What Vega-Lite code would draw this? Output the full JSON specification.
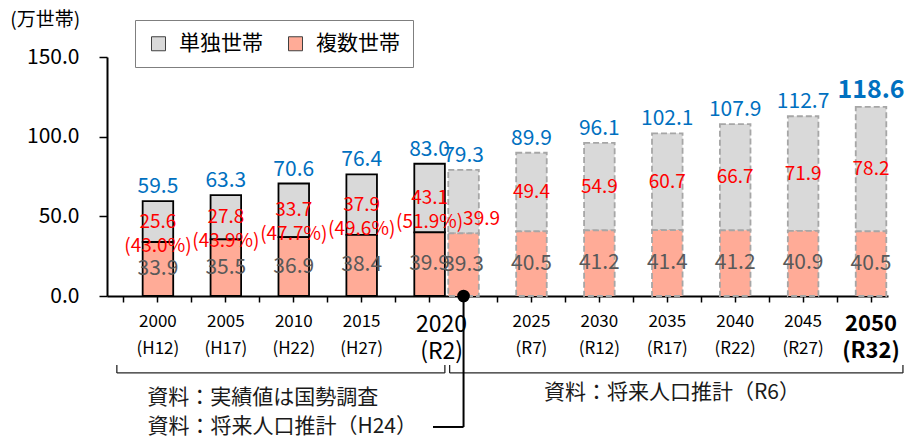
{
  "$schema": "https://vega.github.io/schema/vega-lite/v6.json",
  "width": 781,
  "height": 239,
  "autosize": {"type": "none"},
  "padding": {"left": 107, "top": 57, "right": 21, "bottom": 144},
  "config": {"view": {"stroke": null}, "font": "Noto Sans CJK JP"},
  "data": {
    "values": [
      {"label": "2000|(H12)", "kind": "実績", "複数世帯": 33.9, "単独世帯": 25.6, "total": 59.5, "slbl": "25.6\n(43.0%)"},
      {"label": "2005|(H17)", "kind": "実績", "複数世帯": 35.5, "単独世帯": 27.8, "total": 63.3, "slbl": "27.8\n(43.9%)"},
      {"label": "2010|(H22)", "kind": "実績", "複数世帯": 36.9, "単独世帯": 33.7, "total": 70.6, "slbl": "33.7\n(47.7%)"},
      {"label": "2015|(H27)", "kind": "実績", "複数世帯": 38.4, "単独世帯": 37.9, "total": 76.4, "slbl": "37.9\n(49.6%)"},
      {"label": "2020|(R2)", "kind": "実績", "複数世帯": 39.9, "単独世帯": 43.1, "total": 83.0, "slbl": "43.1\n(51.9%)"},
      {"label": "2020p", "kind": "推計H24", "複数世帯": 39.3, "単独世帯": 39.9, "total": 79.3, "slbl": "39.9"},
      {"label": "2025|(R7)", "kind": "推計R6", "複数世帯": 40.5, "単独世帯": 49.4, "total": 89.9, "slbl": "49.4"},
      {"label": "2030|(R12)", "kind": "推計R6", "複数世帯": 41.2, "単独世帯": 54.9, "total": 96.1, "slbl": "54.9"},
      {"label": "2035|(R17)", "kind": "推計R6", "複数世帯": 41.4, "単独世帯": 60.7, "total": 102.1, "slbl": "60.7"},
      {"label": "2040|(R22)", "kind": "推計R6", "複数世帯": 41.2, "単独世帯": 66.7, "total": 107.9, "slbl": "66.7"},
      {"label": "2045|(R27)", "kind": "推計R6", "複数世帯": 40.9, "単独世帯": 71.9, "total": 112.7, "slbl": "71.9"},
      {"label": "2050|(R32)", "kind": "推計R6", "複数世帯": 40.5, "単独世帯": 78.2, "total": 118.6, "slbl": "78.2"}
    ]
  },
  "layer": [
    {
      "transform": [{"fold": ["単独世帯", "複数世帯"], "as": ["key", "value"]}],
      "mark": {"type": "bar", "width": {"band": 0.9}, "strokeWidth": 1.8},
      "encoding": {
        "x": {
          "field": "label", "type": "nominal", "title": null,
          "scale": {
            "domain": ["_a", "2000|(H12)", "_b", "2005|(H17)", "_c", "2010|(H22)", "_d", "2015|(H27)", "_e", "2020|(R2)", "2020p", "_f", "2025|(R7)", "_g", "2030|(R12)", "_h", "2035|(R17)", "_i", "2040|(R22)", "_j", "2045|(R27)", "_k", "2050|(R32)"],
            "paddingInner": 0, "paddingOuter": 0
          },
          "axis": {
            "title": null,
            "labelExpr": "indexof(datum.value, '|') >= 0 ? split(datum.value, '|') : ''",
            "labelAngle": 0,
            "labelOverlap": false,
            "labelColor": "#000000",
            "labelFontSize": {"condition": [{"test": "indexof(datum.value, '2020|') == 0", "value": 23}, {"test": "indexof(datum.value, '2050|') == 0", "value": 22}], "value": 17},
            "labelFontWeight": {"condition": {"test": "indexof(datum.value, '2050|') == 0", "value": "bold"}, "value": "normal"},
            "labelOffset": {"condition": {"test": "indexof(datum.value, '2020|') == 0", "value": 12}, "value": 0},
            "labelLineHeight": 27,
            "labelPadding": 11,
            "domainColor": "#000000",
            "domainWidth": 2,
            "tickColor": "#000000",
            "tickSize": 6,
            "tickWidth": 1.5
          }
        },
        "y": {
          "field": "value", "type": "quantitative", "stack": "zero",
          "scale": {"domain": [0, 150], "nice": false},
          "axis": {
            "title": null,
            "values": [0, 50, 100, 150],
            "format": ".1f",
            "grid": false,
            "domainColor": "#000000",
            "domainWidth": 2,
            "tickColor": "#000000",
            "tickSize": 8,
            "tickWidth": 1.5,
            "labelFontSize": 21,
            "labelColor": "#000000",
            "labelPadding": 20
          }
        },
        "fill": {
          "field": "key", "type": "nominal",
          "scale": {"domain": ["単独世帯", "複数世帯"], "range": ["#D9D9D9", "#FFAB97"]},
          "legend": {
            "title": null,
            "orient": "none",
            "legendX": 28,
            "legendY": -37,
            "direction": "horizontal",
            "symbolType": "square",
            "symbolSize": 196,
            "symbolStrokeColor": "#404040",
            "symbolStrokeWidth": 1,
            "labelFontSize": 21,
            "labelColor": "#000000",
            "labelOffset": 10,
            "columnPadding": 22,
            "padding": 13,
            "strokeColor": "#7F7F7F",
            "fillColor": "#FFFFFF"
          }
        },
        "order": {"field": "key", "sort": "descending"},
        "stroke": {"condition": {"test": "datum.kind == '実績'", "value": "#000000"}, "value": "#A6A6A6"},
        "strokeDash": {"condition": {"test": "datum.kind == '実績'", "value": [1, 0]}, "value": [6, 3]}
      }
    },
    {
      "transform": [{"fold": ["単独世帯", "複数世帯"], "as": ["key", "value"]}],
      "mark": {"type": "text", "baseline": "middle", "fontSize": 21, "color": "#595959"},
      "encoding": {
        "x": {"field": "label", "type": "nominal", "title": null},
        "y": {"field": "value", "type": "quantitative", "stack": "zero", "bandPosition": 0.5, "scale": {"domain": [0, 150], "nice": false}},
        "detail": {"field": "key"},
        "order": {"field": "key", "sort": "descending"},
        "text": {"condition": {"test": "datum.key == '複数世帯'", "field": "value", "type": "quantitative", "format": ".1f"}, "value": ""}
      }
    },
    {
      "transform": [{"fold": ["単独世帯", "複数世帯"], "as": ["key", "value"]}],
      "mark": {"type": "text", "baseline": "middle", "fontSize": 19, "color": "#FF0000", "lineBreak": "\n", "lineHeight": 24},
      "encoding": {
        "x": {"field": "label", "type": "nominal", "title": null},
        "y": {"field": "value", "type": "quantitative", "stack": "zero", "bandPosition": 0.5, "scale": {"domain": [0, 150], "nice": false}},
        "detail": {"field": "key"},
        "order": {"field": "key", "sort": "descending"},
        "text": {"condition": {"test": "datum.key == '単独世帯' && datum.label != '2020p'", "field": "slbl", "type": "nominal"}, "value": ""}
      }
    },
    {
      "transform": [{"fold": ["単独世帯", "複数世帯"], "as": ["key", "value"]}],
      "mark": {"type": "text", "baseline": "middle", "fontSize": 19, "color": "#FF0000", "dx": 18, "dy": 17},
      "encoding": {
        "x": {"field": "label", "type": "nominal", "title": null},
        "y": {"field": "value", "type": "quantitative", "stack": "zero", "bandPosition": 0.5, "scale": {"domain": [0, 150], "nice": false}},
        "detail": {"field": "key"},
        "order": {"field": "key", "sort": "descending"},
        "text": {"condition": {"test": "datum.key == '単独世帯' && datum.label == '2020p'", "field": "value", "type": "quantitative", "format": ".1f"}, "value": ""}
      }
    },
    {
      "transform": [{"filter": "datum.label != '2050|(R32)'"}],
      "mark": {"type": "text", "baseline": "bottom", "dy": -4, "fontSize": 21, "color": "#0070C0"},
      "encoding": {
        "x": {"field": "label", "type": "nominal", "title": null},
        "y": {"field": "total", "type": "quantitative", "scale": {"domain": [0, 150], "nice": false}},
        "text": {"field": "total", "type": "quantitative", "format": ".1f"}
      }
    },
    {
      "transform": [{"filter": "datum.label == '2050|(R32)'"}],
      "mark": {"type": "text", "baseline": "bottom", "dy": -4, "fontSize": 25, "fontWeight": "bold", "color": "#0070C0"},
      "encoding": {
        "x": {"field": "label", "type": "nominal", "title": null},
        "y": {"field": "total", "type": "quantitative", "scale": {"domain": [0, 150], "nice": false}},
        "text": {"field": "total", "type": "quantitative", "format": ".1f"}
      }
    },
    {
      "data": {"values": [{"t": "(万世帯)"}]},
      "mark": {"type": "text", "fontSize": 19, "color": "#000000", "baseline": "middle", "align": "left"},
      "encoding": {
        "x": {"datum": "_a", "type": "nominal", "bandPosition": -2.85},
        "y": {"datum": 173, "type": "quantitative", "scale": {"domain": [0, 150], "nice": false}},
        "text": {"field": "t"}
      }
    },
    {
      "data": {"values": [{}]},
      "mark": {"type": "rule", "color": "#262626", "strokeWidth": 1.3},
      "encoding": {
        "x": {"datum": "_a", "type": "nominal", "bandPosition": 0.29},
        "x2": {"datum": "2020|(R2)", "bandPosition": 0.95},
        "y": {"datum": -48.3, "type": "quantitative", "scale": {"domain": [0, 150], "nice": false}}
      }
    },
    {
      "data": {"values": [{}]},
      "mark": {"type": "rule", "color": "#262626", "strokeWidth": 1.3},
      "encoding": {
        "x": {"datum": "_a", "type": "nominal", "bandPosition": 0.29},
        "y": {"datum": -48.3, "type": "quantitative", "scale": {"domain": [0, 150], "nice": false}},
        "y2": {"datum": -43.3}
      }
    },
    {
      "data": {"values": [{}]},
      "mark": {"type": "rule", "color": "#262626", "strokeWidth": 1.3},
      "encoding": {
        "x": {"datum": "2020|(R2)", "type": "nominal", "bandPosition": 0.95},
        "y": {"datum": -48.3, "type": "quantitative", "scale": {"domain": [0, 150], "nice": false}},
        "y2": {"datum": -43.3}
      }
    },
    {
      "data": {"values": [{}]},
      "mark": {"type": "rule", "color": "#262626", "strokeWidth": 1.3},
      "encoding": {
        "x": {"datum": "2020p", "type": "nominal", "bandPosition": 0.09},
        "x2": {"datum": "2050|(R32)", "bandPosition": 1.44},
        "y": {"datum": -48.3, "type": "quantitative", "scale": {"domain": [0, 150], "nice": false}}
      }
    },
    {
      "data": {"values": [{}]},
      "mark": {"type": "rule", "color": "#262626", "strokeWidth": 1.3},
      "encoding": {
        "x": {"datum": "2020p", "type": "nominal", "bandPosition": 0.09},
        "y": {"datum": -48.3, "type": "quantitative", "scale": {"domain": [0, 150], "nice": false}},
        "y2": {"datum": -43.3}
      }
    },
    {
      "data": {"values": [{}]},
      "mark": {"type": "rule", "color": "#262626", "strokeWidth": 1.3},
      "encoding": {
        "x": {"datum": "2050|(R32)", "type": "nominal", "bandPosition": 1.44},
        "y": {"datum": -48.3, "type": "quantitative", "scale": {"domain": [0, 150], "nice": false}},
        "y2": {"datum": -43.3}
      }
    },
    {
      "data": {"values": [{}]},
      "mark": {"type": "rule", "color": "#000000", "strokeWidth": 2},
      "encoding": {
        "x": {"datum": "2020p", "type": "nominal", "bandPosition": 0.5},
        "y": {"datum": 0, "type": "quantitative", "scale": {"domain": [0, 150], "nice": false}},
        "y2": {"datum": -82.2}
      }
    },
    {
      "data": {"values": [{}]},
      "mark": {"type": "rule", "color": "#000000", "strokeWidth": 2},
      "encoding": {
        "x": {"datum": "2020|(R2)", "type": "nominal", "bandPosition": 0.6},
        "x2": {"datum": "2020p", "bandPosition": 0.5},
        "y": {"datum": -82.2, "type": "quantitative", "scale": {"domain": [0, 150], "nice": false}}
      }
    },
    {
      "data": {"values": [{}]},
      "mark": {"type": "circle", "color": "#000000", "opacity": 1, "size": 160},
      "encoding": {
        "x": {"datum": "2020p", "type": "nominal", "bandPosition": 0.5},
        "y": {"datum": 0, "type": "quantitative", "scale": {"domain": [0, 150], "nice": false}}
      }
    },
    {
      "data": {"values": [{"t": "資料：実績値は国勢調査"}]},
      "mark": {"type": "text", "fontSize": 21, "color": "#1A1A1A", "baseline": "middle", "align": "center"},
      "encoding": {
        "x": {"datum": "_c", "type": "nominal", "bandPosition": 0.59},
        "y": {"datum": -64.0, "type": "quantitative", "scale": {"domain": [0, 150], "nice": false}},
        "text": {"field": "t"}
      }
    },
    {
      "data": {"values": [{"t": "資料：将来人口推計（R6）"}]},
      "mark": {"type": "text", "fontSize": 21, "color": "#1A1A1A", "baseline": "middle", "align": "center"},
      "encoding": {
        "x": {"datum": "2035|(R17)", "type": "nominal", "bandPosition": 0.64},
        "y": {"datum": -60.9, "type": "quantitative", "scale": {"domain": [0, 150], "nice": false}},
        "text": {"field": "t"}
      }
    },
    {
      "data": {"values": [{"t": "資料：将来人口推計（H24）"}]},
      "mark": {"type": "text", "fontSize": 21, "color": "#1A1A1A", "baseline": "middle", "align": "right"},
      "encoding": {
        "x": {"datum": "2020|(R2)", "type": "nominal", "bandPosition": 0.13},
        "y": {"datum": -82.2, "type": "quantitative", "scale": {"domain": [0, 150], "nice": false}},
        "text": {"field": "t"}
      }
    }
  ]
}
